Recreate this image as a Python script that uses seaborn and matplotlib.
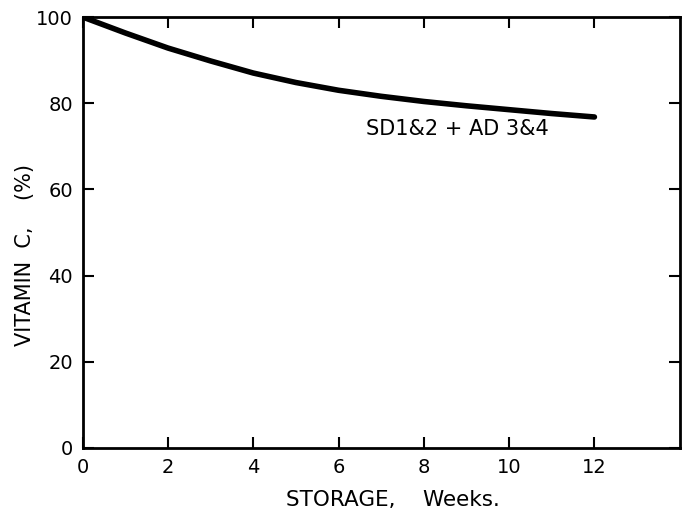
import matplotlib
matplotlib.use("Agg")
import matplotlib.pyplot as plt
import seaborn as sns
import pandas as pd

weeks = [0, 1, 2, 3, 4, 5, 6, 7, 8, 9, 10, 11, 12]
vitamin_c = [100, 96.3, 92.8, 89.8, 87.0, 84.8, 83.0, 81.6, 80.4, 79.4, 78.5, 77.6, 76.8]
series_label = "SD1&2 + AD 3&4"
x_ticks = [0, 2, 4, 6, 8, 10, 12]
x_ticklabels = ["0", "2", "4", "6", "8", "10", "12"]
y_ticks = [0, 20, 40, 60, 80, 100]

sns.set_style("ticks")
plt.rcParams['font.family'] = ['DejaVu Sans']

df = pd.DataFrame({"week": weeks, "vitc": vitamin_c})

fig = plt.figure(figsize=(6.95, 5.16), dpi=100)
ax = fig.add_axes([0.119, 0.132, 0.859, 0.835])
sns.lineplot(data=df, x="week", y="vitc", ax=ax, color="black", linewidth=4,
             estimator=None, sort=True)
ax.set_xlim(0, 14)
ax.set_ylim(0, 100)
ax.set_xticks(x_ticks)
ax.set_xticklabels(x_ticklabels)
ax.set_yticks(y_ticks)
ax.tick_params(direction="in", length=8, width=1.5, top=True, right=True,
               labelsize=14, colors="black", pad=7)
for s in ax.spines.values():
    s.set_linewidth(2)
    s.set_color("black")
ax.set_xlabel("STORAGE,    Weeks.", fontsize=15.5, color="black", va="center")
ax.xaxis.set_label_coords(0.52, -0.121)
ax.set_ylabel("VITAMIN  C,    (%)", fontsize=15, color="black", va="center")
ax.yaxis.set_label_coords(-0.097, 0.448)
ax.text(6.65, 74, series_label, fontsize=15, ha="left", va="center", color="black")
fig.savefig("out.png", dpi=100)
